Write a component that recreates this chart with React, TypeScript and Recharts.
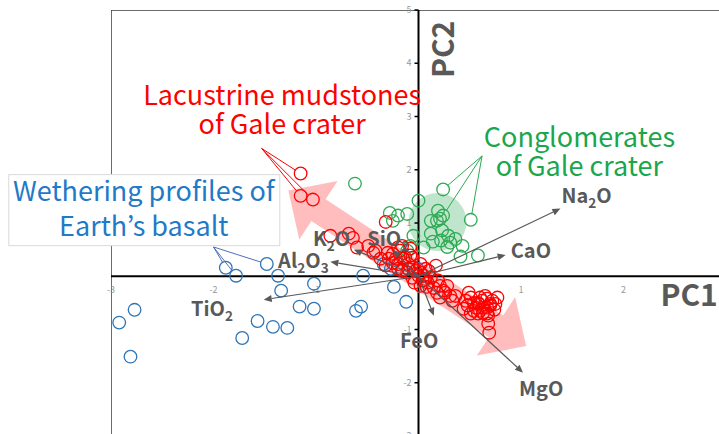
import { ReferenceDot, Scatter, ScatterChart, XAxis, YAxis } from "recharts";

type Pt = { x: number; y: number };

const xTicks = [-3, -2, -1, 0, 1, 2];
const yTicks = [5, 4, 3, 2, 1, -1, -2, -3];

// Lacustrine mudstones of Gale crater (red)
const lacustrine: Pt[] = [
  { x: -1.15, y: 1.93 }, { x: -1.15, y: 1.51 }, { x: -1.03, y: 1.44 }, { x: -0.32, y: 1.02 },
  { x: -0.86, y: 0.76 }, { x: -0.68, y: 0.8 }, { x: -0.64, y: 0.72 }, { x: -0.49, y: 0.57 },
  { x: -0.6, y: 0.54 }, { x: -0.44, y: 0.44 }, { x: -0.42, y: 0.48 }, { x: -0.37, y: 0.33 },
  { x: -0.3, y: 0.44 }, { x: -0.25, y: 0.42 }, { x: -0.2, y: 0.54 }, { x: -0.16, y: 0.57 },
  { x: -0.08, y: 0.52 }, { x: -0.13, y: 0.35 }, { x: -0.22, y: 0.33 }, { x: -0.2, y: 0.23 },
  { x: -0.1, y: 0.23 }, { x: -0.06, y: 0.35 }, { x: -0.05, y: 0.16 }, { x: -0.18, y: 0.48 },
  { x: -0.29, y: 0.33 }, { x: -0.08, y: 0.39 }, { x: -0.32, y: 0.2 }, { x: 0.17, y: 0.2 },
  { x: -0.15, y: 0.33 }, { x: 0.02, y: 0.23 }, { x: -0.1, y: 0.14 }, { x: -0.03, y: 0.1 },
  { x: -0.16, y: 0.1 }, { x: -0.06, y: -0.03 }, { x: 0.02, y: 0.07 }, { x: 0.07, y: 0.14 },
  { x: 0.0, y: 0.01 }, { x: 0.06, y: -0.05 }, { x: 0.12, y: -0.03 }, { x: 0.1, y: 0.1 },
  { x: -0.04, y: -0.12 }, { x: 0.02, y: -0.18 }, { x: 0.08, y: -0.2 }, { x: 0.04, y: -0.08 },
  { x: -0.11, y: 0.07 }, { x: -0.2, y: 0.14 }, { x: -0.25, y: 0.25 }, { x: 0.05, y: 0.01 },
  { x: 0.09, y: -0.12 }, { x: 0.15, y: -0.22 }, { x: 0.21, y: -0.18 }, { x: 0.24, y: -0.27 },
  { x: 0.31, y: -0.37 }, { x: 0.36, y: -0.37 }, { x: 0.21, y: -0.4 }, { x: 0.33, y: -0.46 },
  { x: 0.28, y: -0.18 }, { x: 0.26, y: -0.31 }, { x: 0.18, y: -0.31 }, { x: 0.19, y: -0.08 },
  { x: 0.49, y: -0.31 }, { x: 0.51, y: -0.4 }, { x: 0.58, y: -0.5 }, { x: 0.62, y: -0.46 },
  { x: 0.67, y: -0.42 }, { x: 0.77, y: -0.4 }, { x: 0.75, y: -0.52 }, { x: 0.48, y: -0.55 },
  { x: 0.56, y: -0.59 }, { x: 0.63, y: -0.59 }, { x: 0.7, y: -0.55 }, { x: 0.51, y: -0.7 },
  { x: 0.6, y: -0.65 }, { x: 0.68, y: -0.74 }, { x: 0.68, y: -0.89 }, { x: 0.69, y: -1.06 },
  { x: 0.58, y: -0.7 }, { x: 0.54, y: -0.5 }, { x: 0.59, y: -0.52 }, { x: 0.7, y: -0.52 },
  { x: 0.67, y: -0.59 }, { x: 0.54, y: -0.65 }, { x: 0.67, y: -0.7 }, { x: 0.6, y: -0.4 },
  { x: 0.65, y: -0.37 }, { x: 0.72, y: -0.46 }, { x: 0.46, y: -0.46 }, { x: 0.44, y: -0.61 },
  { x: 0.63, y: -0.69 }, { x: 0.74, y: -0.63 },
];

// Conglomerates of Gale crater (green)
const conglomerates: Pt[] = [
  { x: -0.62, y: 1.74 }, { x: 0.0, y: 1.42 }, { x: -0.28, y: 1.19 }, { x: -0.2, y: 1.14 },
  { x: -0.25, y: 1.04 }, { x: -0.11, y: 1.17 }, { x: 0.24, y: 1.63 }, { x: 0.24, y: 1.14 },
  { x: 0.19, y: 1.23 }, { x: 0.12, y: 1.04 }, { x: 0.18, y: 1.04 }, { x: 0.21, y: 1.08 },
  { x: 0.51, y: 1.06 }, { x: -0.05, y: 0.76 }, { x: 0.12, y: 0.8 }, { x: 0.14, y: 0.65 },
  { x: 0.23, y: 0.86 }, { x: 0.22, y: 0.67 }, { x: 0.29, y: 0.76 }, { x: 0.31, y: 0.63 },
  { x: 0.28, y: 0.55 }, { x: 0.36, y: 0.7 }, { x: 0.43, y: 0.57 }, { x: 0.05, y: 0.54 },
  { x: -0.08, y: 0.57 }, { x: -0.11, y: 0.48 }, { x: 0.41, y: 0.37 }, { x: 0.58, y: 0.39 },
];

// Weathering profiles of Earth's basalt (blue)
const weathering: Pt[] = [
  { x: -1.88, y: 0.16 }, { x: -1.78, y: 0.01 }, { x: -1.48, y: 0.23 }, { x: -1.37, y: 0.01 },
  { x: -1.34, y: -0.27 }, { x: -1.02, y: -0.14 }, { x: -1.16, y: -0.57 }, { x: -1.02, y: -0.61 },
  { x: -2.77, y: -0.63 }, { x: -2.92, y: -0.87 }, { x: -2.81, y: -1.51 }, { x: -1.57, y: -0.84 },
  { x: -1.42, y: -0.95 }, { x: -1.28, y: -0.97 }, { x: -1.72, y: -1.16 }, { x: -0.56, y: -0.57 },
  { x: -0.61, y: -0.65 }, { x: -0.54, y: 0.01 }, { x: -0.24, y: -0.2 }, { x: -0.12, y: -0.48 },
  { x: -0.34, y: 0.23 }, { x: -0.27, y: 0.14 }, { x: -0.16, y: 0.12 }, { x: -0.01, y: 0.14 },
];

const loadingNames = ["Na2O", "CaO", "K2O", "SiO2", "Al2O3", "TiO2", "FeO", "MgO"];
const loadingX = [1.385, 0.85, -0.63, -0.25, -0.86, -1.51, 0.15, 1.02];
const loadingY = [1.27, 0.4, 0.5, 0.5, 0.27, -0.44, -0.74, -1.81];
const loadingLabelX = [1.395, 0.9, -1.03, -0.5, -1.37, -2.22, -0.18, 0.98];
const loadingLabelY = [1.38, 0.35, 0.57, 0.57, 0.16, -0.74, -1.34, -2.25];

const trend: Pt[] = [{ x: -1.27, y: 1.61 }, { x: 1.05, y: -1.31 }];
const highlight: Pt[] = [{ x: 0.185, y: 1.02 }];

const redCallout: Pt = { x: -1.53, y: 2.4 };
const greenCallout: Pt = { x: 0.62, y: 2.26 };
const blueCallout: Pt = { x: -2.0, y: 0.55 };

const RED = "#ff0000";
const GREEN = "#2eaa52";
const BLUE = "#2e75b6";
const GREY = "#595959";
const FONT = "'Noto Sans CJK JP', 'Noto Sans', sans-serif";

const noDot = () => <g />;

const ring = (color: string) => (p: any) =>
  <circle cx={p.cx} cy={p.cy} r={6.3} fill="none" stroke={color} strokeWidth={1.3} />;

const trendArrow = (p: any) => {
  const [a, b] = p.points;
  const len = Math.hypot(b.x - a.x, b.y - a.y);
  const ux = (b.x - a.x) / len;
  const uy = (b.y - a.y) / len;
  const at = (t: number, s: number) => `${a.x + ux * t - uy * s},${a.y + uy * t + ux * s}`;
  const head = 36, wing = 35, shaft = 13;
  const pts = [
    at(0, 0), at(head, wing), at(head, shaft), at(len - head, shaft), at(len - head, wing),
    at(len, 0), at(len - head, -wing), at(len - head, -shaft), at(head, -shaft), at(head, -wing),
  ];
  return <polygon points={pts.join(" ")} fill="#ffbdbd" />;
};

const vector = (p: any) => {
  const [a, b] = p.points;
  const len = Math.hypot(b.x - a.x, b.y - a.y);
  const ux = (b.x - a.x) / len;
  const uy = (b.y - a.y) / len;
  const bx = b.x - ux * 8, by = b.y - uy * 8;
  return (
    <g>
      <line x1={a.x} y1={a.y} x2={bx} y2={by} stroke={GREY} strokeWidth={1.2} />
      <polygon
        points={`${b.x},${b.y} ${bx - uy * 3.5},${by + ux * 3.5} ${bx + uy * 3.5},${by - ux * 3.5}`}
        fill={GREY}
      />
    </g>
  );
};

const leader = (color: string) => (p: any) => {
  const [a, b] = p.points;
  const len = Math.hypot(b.x - a.x, b.y - a.y);
  const k = (len - 6.3) / len;
  return (
    <line x1={a.x} y1={a.y} x2={a.x + (b.x - a.x) * k} y2={a.y + (b.y - a.y) * k} stroke={color} strokeWidth={1} />
  );
};

const segment = (color: string, width: number) => (p: any) => {
  const [a, b] = p.points;
  return <line x1={a.x} y1={a.y} x2={b.x} y2={b.y} stroke={color} strokeWidth={width} />;
};

const chem = (name: string, size: number) =>
  name
    .split(/(\d)/)
    .filter(Boolean)
    .map((part, i) =>
      /\d/.test(part) ? (
        <tspan key={i} fontSize={size * 0.68} dy={size * 0.28}>{part}</tspan>
      ) : (
        <tspan key={i} dy={i > 0 ? -size * 0.28 : 0}>{part}</tspan>
      )
    );

const twoLines = (l1: string, l2: string, color: string, gap: number) => (p: any) =>
  (
    <text x={p.cx} y={p.cy} fill={color} fontSize={27} fontFamily={FONT} textAnchor="middle">
      <tspan x={p.cx}>{l1}</tspan>
      <tspan x={p.cx} dy={gap}>{l2}</tspan>
    </text>
  );

const boxedLabel = (p: any) => (
  <g>
    <rect x={p.cx - 135} y={p.cy - 26} width={271} height={71} fill="#fff" stroke="#d9d9d9" strokeWidth={1} />
    <text x={p.cx} y={p.cy} fill="#1f7ac8" fontSize={27} fontFamily={FONT} textAnchor="middle">
      <tspan x={p.cx}>Wethering profiles of</tspan>
      <tspan x={p.cx} dy={35}>Earth’s basalt</tspan>
    </text>
  </g>
);

export default function App() {
  return (
    <div style={{ position: "absolute", left: 0, top: 0, width: 719, height: 434, overflow: "hidden", background: "#fff" }}>
      <ScatterChart width={740} height={450} margin={{ top: 10, right: 14, bottom: 14, left: 111 }}>
        <XAxis type="number" dataKey="x" domain={[-3, 3]} allowDataOverflow hide />
        <YAxis type="number" dataKey="y" domain={[-3, 5]} allowDataOverflow hide />

        {/* frame */}
        <Scatter data={[{ x: -3, y: -3 }, { x: -3, y: 5 }]} shape={noDot} line={segment("#3a3a3a", 1.5)} isAnimationActive={false} />
        <Scatter data={[{ x: -3, y: 5 }, { x: 3, y: 5 }]} shape={noDot} line={segment("#3a3a3a", 1.5)} isAnimationActive={false} />

        {/* trend arrow and highlight */}
        <Scatter data={trend} shape={noDot} line={trendArrow} isAnimationActive={false} />
        <Scatter
          data={highlight}
          shape={(p: any) => <circle cx={p.cx} cy={p.cy} r={29} fill="#bfe6cc" />}
          isAnimationActive={false}
        />

        {/* zero axes */}
        <Scatter data={[{ x: -3, y: 0 }, { x: 3, y: 0 }]} shape={noDot} line={segment("#000", 2)} isAnimationActive={false} />
        <Scatter data={[{ x: 0, y: -3 }, { x: 0, y: 5 }]} shape={noDot} line={segment("#000", 2)} isAnimationActive={false} />

        {xTicks.map((t) => (
          <ReferenceDot key={`xt${t}`} x={t} y={0} r={0} ifOverflow="visible"
            shape={(p: any) => (
              <text x={p.cx} y={p.cy + 17} fill="#999" fontSize={9} fontFamily={FONT} textAnchor="middle">{t}</text>
            )}
          />
        ))}
        {yTicks.map((t) => (
          <ReferenceDot key={`yt${t}`} x={0} y={t} r={0} ifOverflow="visible"
            shape={(p: any) => (
              <g>
                <line x1={p.cx - 4} y1={p.cy} x2={p.cx} y2={p.cy} stroke="#000" strokeWidth={1.5} />
                <text x={p.cx - 7} y={p.cy + 3} fill="#999" fontSize={9} fontFamily={FONT} textAnchor="end">{t}</text>
              </g>
            )}
          />
        ))}

        {/* points */}
        <Scatter data={weathering} shape={ring(BLUE)} isAnimationActive={false} />
        <Scatter data={conglomerates} shape={ring(GREEN)} isAnimationActive={false} />
        <Scatter data={lacustrine} shape={ring(RED)} isAnimationActive={false} />

        {/* loading vectors */}
        {loadingNames.map((n, i) => (
          <Scatter key={n} data={[{ x: 0, y: 0 }, { x: loadingX[i], y: loadingY[i] }]} shape={noDot} line={vector} isAnimationActive={false} />
        ))}

        {/* callout lines */}
        {[0, 1, 2].map((i) => (
          <Scatter key={`rc${i}`} data={[redCallout, lacustrine[i]]} shape={noDot} line={leader(RED)} isAnimationActive={false} />
        ))}
        {[6, 7, 12].map((i) => (
          <Scatter key={`gc${i}`} data={[greenCallout, conglomerates[i]]} shape={noDot} line={leader(GREEN)} isAnimationActive={false} />
        ))}
        {[0, 1, 2].map((i) => (
          <Scatter key={`bc${i}`} data={[blueCallout, weathering[i]]} shape={noDot} line={leader("#4f6fbf")} isAnimationActive={false} />
        ))}

        {/* loading labels */}
        {loadingNames.map((n, i) => (
          <ReferenceDot key={`lab${n}`} x={loadingLabelX[i]} y={loadingLabelY[i]} r={0} ifOverflow="visible"
            shape={(p: any) => (
              <text x={p.cx} y={p.cy} fill={GREY} fontSize={20} fontWeight={700} fontFamily={FONT}>{chem(n, 20)}</text>
            )}
          />
        ))}

        {/* group labels */}
        <ReferenceDot x={-1.33} y={3.22} r={0} ifOverflow="visible" shape={twoLines("Lacustrine mudstones", "of Gale crater", RED, 29)} />
        <ReferenceDot x={1.57} y={2.43} r={0} ifOverflow="visible" shape={twoLines("Conglomerates", "of Gale crater", "#1aa64b", 29)} />
        <ReferenceDot x={-2.68} y={1.42} r={0} ifOverflow="visible" shape={boxedLabel} />

        {/* axis titles */}
        <ReferenceDot x={2.36} y={-0.55} r={0} ifOverflow="visible"
          shape={(p: any) => (
            <text x={p.cx} y={p.cy} fill={GREY} fontSize={30} fontWeight={700} fontFamily={FONT}>PC1</text>
          )}
        />
        <ReferenceDot x={0.215} y={4.26} r={0} ifOverflow="visible"
          shape={(p: any) => (
            <text x={p.cx} y={p.cy} fill={GREY} fontSize={30} fontWeight={700} fontFamily={FONT}
              textAnchor="middle" dominantBaseline="central" transform={`rotate(-90 ${p.cx} ${p.cy})`}>PC2</text>
          )}
        />
      </ScatterChart>
    </div>
  );
}
